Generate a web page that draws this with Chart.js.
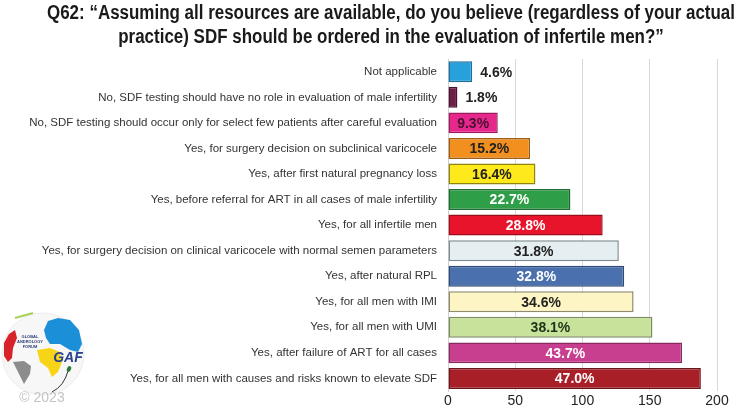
<!DOCTYPE html>
<html>
<head>
<meta charset="utf-8">
<script src="https://cdn.jsdelivr.net/npm/chart.js@4.4.0/dist/chart.umd.min.js"></script>
<style>
  html, body { margin: 0; padding: 0; background: #fff; }
  #wrap { width: 735px; height: 412px; position: relative; }
</style>
</head>
<body>
<div id="wrap"><canvas id="sdfChart"></canvas></div>
<script>
// Antworten (von oben nach unten)
const answers = [
    'Not applicable',
    'No, SDF testing should have no role in evaluation of male infertility',
    'No, SDF testing should occur only for select few patients after careful evaluation',
    'Yes, for surgery decision on subclinical varicocele',
    'Yes, after first natural pregnancy loss',
    'Yes, before referral for ART in all cases of male infertility',
    'Yes, for all infertile men',
    'Yes, for surgery decision on clinical varicocele with normal semen parameters',
    'Yes, after natural RPL',
    'Yes, for all men with IMI',
    'Yes, for all men with UMI',
    'Yes, after failure of ART for all cases',
    'Yes, for all men with causes and risks known to elevate SDF'
];
// Anzahl der Antworten (x-Achse)
const counts = [18, 7, 37, 61, 65, 91, 115, 127, 131, 138, 152, 174, 188];
// Prozentangaben als Beschriftung
const percents = ['4.6%', '1.8%', '9.3%', '15.2%', '16.4%', '22.7%', '28.8%', '31.8%', '32.8%', '34.6%', '38.1%', '43.7%', '47.0%'];
const xTicks = [0, 50, 100, 150, 200];
const titleLines = [
    'Q62: \u201cAssuming all resources are available, do you believe (regardless of your actual',
    'practice) SDF should be ordered in the evaluation of infertile men?\u201d'
];

const fillColors = ['#27a1dc', '#6e1f45', '#e6288c', '#f2901f', '#fde91c', '#2f9e48', '#e8142b', '#e5eef1', '#4a71ae', '#fdf5c3', '#c9e29b', '#c93f8f', '#a81f28'];
const edgeColors = ['#1f6f99', '#4a1430', '#9c1b5e', '#9e5e14', '#8f8412', '#1f6a30', '#9a0e1c', '#7d8a8f', '#2f4b75', '#8f8a6c', '#7c8c60', '#862a5f', '#6e141b'];
const labelColors = ['#222', '#222', '#4a1030', '#222', '#222', '#fff', '#fff', '#222', '#fff', '#222', '#1d3318', '#fff', '#fff'];

const font = 'Arial, "Liberation Sans", sans-serif';

// Titel schmal gesetzt (wie Arial Narrow)
const narrowTitle = {
    id: 'narrowTitle',
    beforeDraw(chart) {
        const ctx = chart.ctx;
        ctx.save();
        ctx.font = 'bold 20px ' + font;
        ctx.fillStyle = '#1a1a1a';
        ctx.textBaseline = 'alphabetic';
        ctx.textAlign = 'center';
        const scaleX = 688 / ctx.measureText(titleLines[0]).width;
        ctx.translate(391, 0);
        ctx.scale(scaleX, 1);
        ctx.fillText(titleLines[0], 0, 19);
        ctx.fillText(titleLines[1], 0, 43);
        ctx.restore();
    }
};

// Prozentwerte in oder neben die Balken schreiben
const barLabels = {
    id: 'barLabels',
    afterDatasetsDraw(chart) {
        const ctx = chart.ctx;
        const meta = chart.getDatasetMeta(0);
        ctx.save();
        ctx.font = 'bold 14px ' + font;
        ctx.textBaseline = 'middle';
        meta.data.forEach((bar, i) => {
            const text = percents[i];
            const w = ctx.measureText(text).width;
            const barW = bar.x - bar.base;
            ctx.fillStyle = labelColors[i];
            if (barW < w + 8) {
                ctx.textAlign = 'left';
                ctx.fillText(text, bar.x + 8, bar.y + 1);
            } else {
                ctx.textAlign = 'center';
                ctx.fillText(text, (bar.x + bar.base) / 2, bar.y + 1);
            }
        });
        ctx.restore();
    }
};

// GAF Logo unten links (vereinfacht)
const logo = {
    id: 'logo',
    afterDraw(chart) {
        const ctx = chart.ctx;
        ctx.save();
        const cx = 43, cy = 354, r = 41;
        ctx.beginPath();
        ctx.arc(cx, cy, r, 0, Math.PI * 2);
        ctx.fillStyle = '#f7f7f7';
        ctx.fill();
        ctx.strokeStyle = '#ececec';
        ctx.lineWidth = 1;
        ctx.stroke();
        // Nordamerika
        ctx.fillStyle = '#d8232a';
        ctx.beginPath();
        ctx.moveTo(4, 343); ctx.lineTo(9, 334); ctx.lineTo(15, 330); ctx.lineTo(17, 338);
        ctx.lineTo(13, 348); ctx.lineTo(12, 358); ctx.lineTo(8, 362); ctx.lineTo(4, 356); ctx.closePath(); ctx.fill();
        // Südamerika
        ctx.fillStyle = '#8c8c8c';
        ctx.beginPath();
        ctx.moveTo(13, 362); ctx.lineTo(24, 361); ctx.lineTo(31, 366); ctx.lineTo(30, 374);
        ctx.lineTo(24, 384); ctx.lineTo(22, 380); ctx.lineTo(18, 372); ctx.closePath(); ctx.fill();
        // Europa/Asien
        ctx.fillStyle = '#1b8fd8';
        ctx.beginPath();
        ctx.moveTo(44, 330); ctx.lineTo(48, 321); ctx.lineTo(58, 318); ctx.lineTo(70, 320);
        ctx.lineTo(79, 330); ctx.lineTo(82, 344); ctx.lineTo(78, 352); ctx.lineTo(70, 350);
        ctx.lineTo(60, 344); ctx.lineTo(50, 344); ctx.lineTo(46, 338); ctx.closePath(); ctx.fill();
        // Afrika
        ctx.fillStyle = '#f8d417';
        ctx.beginPath();
        ctx.moveTo(37, 350); ctx.lineTo(50, 348); ctx.lineTo(60, 352); ctx.lineTo(62, 362);
        ctx.lineTo(58, 372); ctx.lineTo(52, 377); ctx.lineTo(48, 368); ctx.lineTo(40, 362); ctx.closePath(); ctx.fill();
        // grüner Bogen oben
        ctx.strokeStyle = '#a6d25a';
        ctx.lineWidth = 2;
        ctx.beginPath();
        ctx.moveTo(15, 318); ctx.lineTo(33, 313);
        ctx.stroke();
        // Spermienschweif
        ctx.strokeStyle = '#333';
        ctx.lineWidth = 1;
        ctx.beginPath();
        ctx.moveTo(68, 371); ctx.quadraticCurveTo(64, 386, 52, 392);
        ctx.stroke();
        ctx.fillStyle = '#2a7a3a';
        ctx.beginPath();
        ctx.ellipse(69, 369, 2, 3, 0.4, 0, Math.PI * 2);
        ctx.fill();
        // Schrift
        ctx.fillStyle = '#2c3e7a';
        ctx.font = 'bold 4px ' + font;
        ctx.textAlign = 'center';
        ctx.fillText('GLOBAL', 30, 338);
        ctx.fillText('ANDROLOGY', 30, 343);
        ctx.fillText('FORUM', 30, 348);
        ctx.font = 'italic bold 14px ' + font;
        ctx.fillStyle = '#27428f';
        ctx.fillText('GAF', 68, 362);
        ctx.font = '14px ' + font;
        ctx.fillStyle = '#c4c4c4';
        ctx.fillText('\u00a9 2023', 42, 402);
        ctx.restore();
    }
};

new Chart(document.getElementById('sdfChart'), {
    type: 'bar',
    data: {
        labels: answers,
        datasets: [{
            data: counts,
            backgroundColor: fillColors,
            borderColor: edgeColors,
            borderWidth: 1.5,
            borderSkipped: false,
            barPercentage: 0.82,
            categoryPercentage: 1.0
        }]
    },
    options: {
        indexAxis: 'y',
        responsive: true,
        maintainAspectRatio: false,
        animation: false,
        layout: { padding: { left: 0, right: 18, top: 59, bottom: 0 } },
        plugins: {
            legend: { display: false },
            tooltip: { enabled: false },
            title: { display: false }
        },
        scales: {
            x: {
                min: 0,
                max: 200,
                afterBuildTicks: (scale) => { scale.ticks = xTicks.map(v => ({ value: v })); },
                grid: { color: '#d9d9d9', drawTicks: false },
                border: { display: false },
                ticks: {
                    color: '#222',
                    padding: 2,
                    font: { family: font, size: 14 }
                }
            },
            y: {
                afterFit: (scale) => { scale.width = 448; },
                grid: { display: false, drawTicks: false },
                border: { display: true, color: '#d0d0d0' },
                ticks: {
                    color: '#333',
                    padding: 11,
                    autoSkip: false,
                    font: { family: font, size: 11.5 }
                }
            }
        }
    },
    plugins: [narrowTitle, barLabels, logo]
});
</script>
</body>
</html>
